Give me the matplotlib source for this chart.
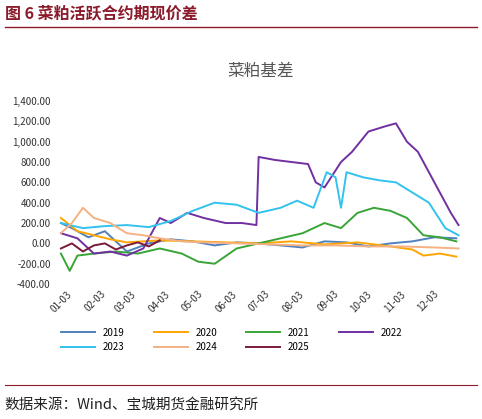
import matplotlib.pyplot as plt

plt.rcParams['font.family'] = ['Noto Sans CJK SC', 'DejaVu Sans']

# 日期位置（从01-03起的天数）与刻度
tick_days = [0, 31, 59, 90, 120, 151, 181, 212, 243, 273, 304, 334]
tick_labels = ['01-03', '02-03', '03-03', '04-03', '05-03', '06-03',
               '07-03', '08-03', '09-03', '10-03', '11-03', '12-03']

d19 = [0, 10, 25, 40, 60, 80, 100, 120, 140, 160, 180, 200, 220, 240, 260, 280, 300, 320, 340, 360]
v19 = [200, 150, 60, 120, -80, 0, 40, 20, -20, 10, 0, -20, -40, 20, 10, -30, 0, 20, 60, 50]

d20 = [0, 15, 30, 45, 60, 90, 120, 150, 180, 210, 240, 270, 300, 320, 330, 345, 360]
v20 = [250, 120, 80, 40, 10, 30, 20, 10, 0, 20, -10, 10, -30, -60, -120, -100, -130]

d21 = [0, 8, 15, 30, 50, 70, 90, 110, 125, 140, 160, 180, 200, 220, 240, 255, 270, 285, 300, 315, 330, 345, 360]
v21 = [-100, -270, -120, -100, -80, -100, -50, -100, -180, -200, -50, 0, 50, 100, 200, 150, 300, 350, 320, 250, 80, 60, 20]

d22 = [0, 15, 30, 45, 60, 75, 90, 100, 115, 130, 150, 165, 178, 180, 195, 210, 225, 232, 240, 255, 265, 280, 295, 305, 315, 325, 335, 345, 355, 362]
v22 = [100, 50, -100, -80, -120, -50, 250, 200, 300, 250, 200, 200, 180, 850, 820, 800, 780, 600, 550, 800, 900, 1100, 1150, 1180, 1000, 900, 700, 500, 300, 180]

d23 = [0, 20, 40, 60, 80, 100, 120, 140, 160, 180, 200, 215, 230, 242, 250, 255, 260, 275, 290, 305, 320, 335, 350, 362]
v23 = [200, 150, 170, 180, 160, 220, 320, 400, 380, 300, 350, 420, 350, 700, 650, 350, 700, 650, 620, 600, 500, 400, 150, 80]

d24 = [0, 10, 20, 30, 45, 60, 75, 90, 110, 130, 160, 190, 220, 250, 280, 310, 340, 362]
v24 = [100, 200, 350, 250, 200, 100, 80, 50, 20, 10, 0, -10, -20, -20, -30, -30, -40, -50]

d25 = [0, 10, 20, 30, 40, 50, 60, 70, 80, 90]
v25 = [-50, 0, -80, -20, 0, -60, -20, 10, -30, 30]

series = [
    ('2019', d19, v19, '#4F81BD'),
    ('2020', d20, v20, '#FFA500'),
    ('2021', d21, v21, '#3AA537'),
    ('2022', d22, v22, '#7030A0'),
    ('2023', d23, v23, '#33C2EE'),
    ('2024', d24, v24, '#F4B183'),
    ('2025', d25, v25, '#7B1A3A'),
]

fig = plt.figure(figsize=(4.82, 4.19), dpi=100)
ax = fig.add_axes([0.115, 0.322, 0.85, 0.437])

lines = {}
for name, d, v, c in series:
    lines[name], = ax.plot(d, v, color=c, lw=1.4, label=name)

ax.set_ylim(-400, 1400)
ax.set_yticks(range(-400, 1401, 200))
ax.set_yticklabels([f'{y:,.2f}' for y in range(-400, 1401, 200)], fontsize=7, color='#333333')
ax.set_xlim(-5, 368)
ax.set_xticks(tick_days)
ax.set_xticklabels(tick_labels, rotation=45, fontsize=7, color='#333333')
for s in ax.spines.values():
    s.set_visible(False)
ax.tick_params(length=0)

ax.set_title('菜粕基差', fontsize=12, color='#555555', pad=18)

# 图例按行排列：2019 2020 2021 2022 / 2023 2024 2025
order = ['2019', '2023', '2020', '2024', '2021', '2025', '2022']
ax.legend([lines[k] for k in order], order, loc='upper center', bbox_to_anchor=(0.43, -0.19),
          ncol=4, frameon=False, fontsize=7, handlelength=3.5, columnspacing=3)

fig.text(0.01, 0.955, '图 6 菜粕活跃合约期现价差', fontsize=11.5, fontweight='bold', color='#8B1A2B')
fig.add_artist(plt.Line2D([0.01, 0.99], [0.935, 0.935], color='#8B1A2B', lw=1))
fig.add_artist(plt.Line2D([0.01, 0.99], [0.082, 0.082], color='#8B1A2B', lw=0.8))
fig.text(0.01, 0.025, '数据来源：Wind、宝城期货金融研究所', fontsize=10.5, color='#222222')

fig.savefig('out.png')
